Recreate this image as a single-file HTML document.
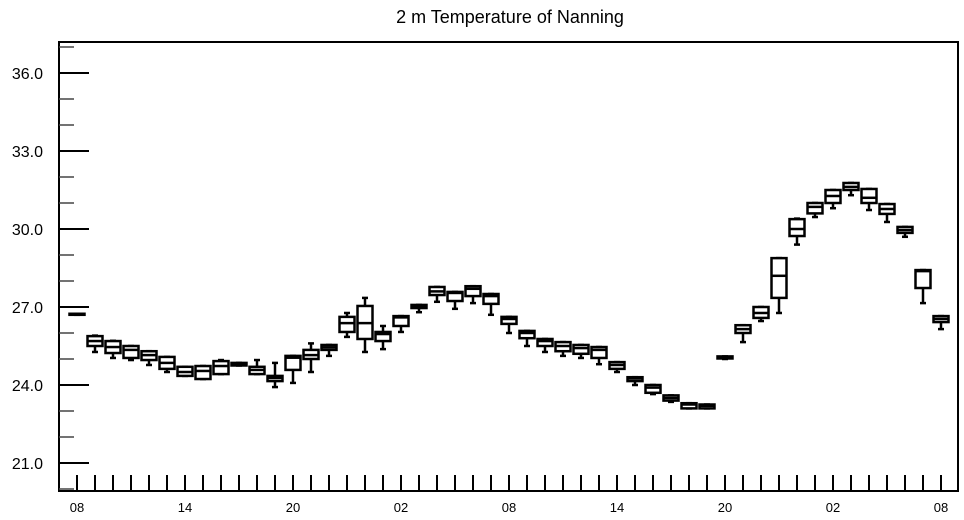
<!DOCTYPE html>
<html><head><meta charset="utf-8"><style>
html,body{margin:0;padding:0;background:#fff;}
svg{display:block;font-family:"Liberation Sans",sans-serif;}
</style></head><body>
<svg id="chart" width="964" height="520" viewBox="0 0 964 520">
<text x="510" y="23" text-anchor="middle" font-size="18">2 m Temperature of Nanning</text>
<rect x="59" y="42" width="899" height="449" fill="none" stroke="#000" stroke-width="2"/>
<g id="axes"></g><g id="boxes"></g>
</svg>
<script>
const xLabels = ["08","14","20","02","08","14","20","02","08"];
const yTicks = [21,24,27,30,33,36];
const maxV = [26.74,25.9,25.7,25.5,25.3,25.08,24.7,24.73,24.96,24.85,24.96,24.85,25.12,25.6,25.54,26.77,27.35,26.27,26.65,27.08,27.77,27.58,27.8,27.5,26.62,26.08,25.77,25.65,25.54,25.46,24.88,24.3,24.0,23.6,23.3,23.25,25.1,26.3,27.0,28.88,30.4,31.0,31.5,31.77,31.54,30.96,30.08,28.42,26.65];
const q3V = [26.74,25.88,25.69,25.5,25.3,25.08,24.7,24.73,24.92,24.85,24.7,24.35,25.12,25.35,25.54,26.62,27.04,26.04,26.65,27.08,27.77,27.58,27.8,27.5,26.62,26.08,25.77,25.65,25.54,25.46,24.88,24.3,24.0,23.6,23.3,23.25,25.1,26.3,27.0,28.88,30.38,31.0,31.5,31.77,31.54,30.96,30.08,28.42,26.65];
const medV = [26.72,25.69,25.46,25.35,25.15,24.85,24.5,24.54,24.73,24.8,24.58,24.27,25.05,25.15,25.45,26.38,26.38,25.96,26.6,27.0,27.6,27.54,27.7,27.42,26.54,26.0,25.69,25.5,25.42,25.35,24.77,24.25,23.9,23.5,23.25,23.2,25.06,26.15,26.77,28.2,30.0,30.85,31.27,31.62,31.2,30.77,29.96,28.38,26.54];
const q1V = [26.7,25.5,25.23,25.04,24.96,24.62,24.35,24.23,24.42,24.75,24.42,24.15,24.58,25.0,25.35,26.04,25.77,25.69,26.27,26.96,27.46,27.23,27.42,27.12,26.35,25.8,25.5,25.3,25.2,25.04,24.62,24.15,23.7,23.4,23.1,23.1,25.02,26.0,26.58,27.35,29.73,30.6,31.0,31.5,31.0,30.58,29.85,27.73,26.42];
const minV = [26.7,25.27,25.04,24.96,24.77,24.5,24.35,24.23,24.42,24.75,24.42,23.92,24.08,24.5,25.12,25.85,25.27,25.38,26.04,26.8,27.2,26.93,27.15,26.7,26.0,25.5,25.27,25.12,25.04,24.8,24.5,24.0,23.65,23.35,23.1,23.1,25.0,25.65,26.46,26.77,29.4,30.46,30.8,31.3,30.73,30.27,29.7,27.15,26.15];

const NS="http://www.w3.org/2000/svg";
const yScale = v => 463 - (v-21)*26;
const xScale = i => 77 + i*18;
function mk(tag, attrs, parent){const e=document.createElementNS(NS,tag);for(const k in attrs)e.setAttribute(k,attrs[k]);parent.appendChild(e);return e;}
const axes=document.getElementById('axes'), boxes=document.getElementById('boxes');
for(let v=20; v<=37; v++){
  const major = yTicks.includes(v);
  const t=mk('line',{x1:59,x2:major?89:74,y1:yScale(v),y2:yScale(v),stroke:major?'#000':'#444','stroke-width':major?2:1.5},axes);
  
  
}
yTicks.forEach(v=>{
  const t=mk('text',{x:43,y:yScale(v)+6,'text-anchor':'end','font-size':16},axes);
  t.textContent=v.toFixed(1);
  
  
});
for(let i=0;i<minV.length;i++){
  const t=mk('line',{x1:xScale(i),x2:xScale(i),y1:475,y2:491,stroke:'#000','stroke-width':2},axes);
  
  
}
xLabels.forEach((l,k)=>{
  const t=mk('text',{x:xScale(k*6),y:512,'text-anchor':'middle','font-size':13},axes);
  t.textContent=l;
  
  
});
for(let i=0;i<minV.length;i++){
  const g=mk('g',{},boxes);
  
  
  const x=xScale(i), w=15, sw=2.5;
  const yt=yScale(q3V[i]), yb=yScale(q1V[i]);
  mk('line',{x1:x,x2:x,y1:yScale(maxV[i]),y2:yt,stroke:'#000','stroke-width':sw},g);
  mk('line',{x1:x,x2:x,y1:yb,y2:yScale(minV[i]),stroke:'#000','stroke-width':sw},g);
  mk('line',{x1:x-3,x2:x+3,y1:yScale(maxV[i]),y2:yScale(maxV[i]),stroke:'#000','stroke-width':sw},g);
  mk('line',{x1:x-3,x2:x+3,y1:yScale(minV[i]),y2:yScale(minV[i]),stroke:'#000','stroke-width':sw},g);
  mk('rect',{x:x-w/2,y:yt,width:w,height:Math.max(yb-yt,1),fill:'#fff',stroke:'#000','stroke-width':sw},g);
  mk('line',{x1:x-w/2,x2:x+w/2,y1:yScale(medV[i]),y2:yScale(medV[i]),stroke:'#000','stroke-width':sw},g);
}
</script>
</body></html>
